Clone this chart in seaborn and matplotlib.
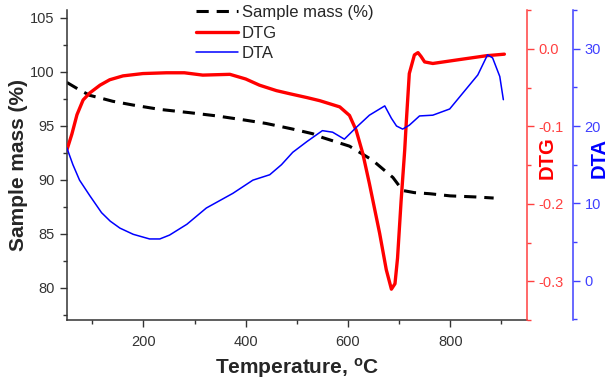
import matplotlib
matplotlib.use("Agg")
import matplotlib.pyplot as plt
from matplotlib.ticker import MultipleLocator
import pandas as pd
import seaborn as sns

# Data
temp_mass = [50, 75, 95, 120, 140, 180, 232, 290, 343, 400, 440, 490, 531, 550,
             603, 648, 688, 707, 730, 760, 800, 850, 885]
mass = [99.0, 98.3, 97.8, 97.5, 97.25, 96.9, 96.5, 96.2, 95.9, 95.5, 95.2, 94.7,
        94.25, 93.9, 93.1, 91.8, 90.2, 89.0, 88.8, 88.7, 88.5, 88.4, 88.3]

temp_dtg = [50, 60, 70, 82, 95, 115, 134, 160, 199, 245, 280, 316, 369, 400, 427,
            460, 486, 520, 545, 584, 603, 616, 629, 642, 662, 675, 685, 692, 697,
            704, 711, 714, 720, 730, 737, 743, 750, 766, 818, 871, 906]
dtg = [-0.131, -0.11, -0.085, -0.066, -0.057, -0.047, -0.040, -0.035, -0.032,
       -0.031, -0.031, -0.034, -0.033, -0.039, -0.047, -0.054, -0.058, -0.063,
       -0.067, -0.075, -0.086, -0.105, -0.135, -0.174, -0.238, -0.285, -0.310,
       -0.303, -0.27, -0.196, -0.131, -0.096, -0.032, -0.008, -0.005, -0.01,
       -0.017, -0.019, -0.014, -0.009, -0.007]

temp_dta = [50, 62, 75, 95, 118, 135, 154, 180, 212, 232, 251, 285, 323, 375, 414,
            447, 470, 492, 520, 550, 570, 593, 616, 642, 672, 685, 695, 707, 720,
            740, 766, 799, 824, 854, 873, 883, 897, 904]
dta = [17.2, 15.0, 13.0, 11.0, 8.8, 7.7, 6.8, 6.0, 5.4, 5.4, 5.9, 7.3, 9.4, 11.3,
       13.0, 13.7, 15.0, 16.6, 18.0, 19.4, 19.2, 18.3, 19.8, 21.4, 22.6, 21.0,
       20.0, 19.6, 20.1, 21.3, 21.4, 22.2, 24.2, 26.6, 29.2, 28.8, 26.4, 23.4]

df_mass = pd.DataFrame({"T": temp_mass, "v": mass})
df_dtg = pd.DataFrame({"T": temp_dtg, "v": dtg})
df_dta = pd.DataFrame({"T": temp_dta, "v": dta})

sns.set_style("ticks")
plt.rcParams["font.family"] = ["Liberation Sans", "DejaVu Sans"]
plt.rcParams["mathtext.default"] = "regular"

fig = plt.figure(figsize=(6.07, 3.83), dpi=100)
ax = fig.add_axes([0.110, 0.164, 0.758, 0.810])
ax2 = ax.twinx()
ax3 = ax.twinx()
ax3.spines["right"].set_position(("outward", 33))

sns.lineplot(data=df_mass, x="T", y="v", ax=ax, color="black", lw=2.2,
             linestyle=(0, (4, 2.6)), label="Sample mass (%)", legend=False)
sns.lineplot(data=df_dtg, x="T", y="v", ax=ax2, color="#ff0000", lw=2.4,
             label="DTG", legend=False)
sns.lineplot(data=df_dta, x="T", y="v", ax=ax3, color="#0000ff", lw=1.1,
             label="DTA", legend=False)

ax.set_xlim(50, 950)
ax.set_ylim(77, 105.7)
ax2.set_ylim(-0.35, 0.05)
ax3.set_ylim(-5.1, 35)

ax.xaxis.set_major_locator(MultipleLocator(200))
ax.xaxis.set_minor_locator(MultipleLocator(100))
ax.yaxis.set_major_locator(MultipleLocator(5))
ax.yaxis.set_minor_locator(MultipleLocator(2.5))
ax2.yaxis.set_major_locator(MultipleLocator(0.1))
ax2.yaxis.set_minor_locator(MultipleLocator(0.05))
ax2.yaxis.set_major_formatter(plt.FuncFormatter(lambda v, p: f"{v:.1f}"))
ax3.yaxis.set_major_locator(MultipleLocator(10))
ax3.yaxis.set_minor_locator(MultipleLocator(5))

# spines
ax.spines["top"].set_visible(False)
ax.spines["right"].set_visible(False)
for a in (ax2, ax3):
    a.spines["top"].set_visible(False)
    a.spines["left"].set_visible(False)
    a.spines["bottom"].set_visible(False)
ax2.spines["right"].set_color("#ff4040")
ax3.spines["right"].set_color("#4040ff")
for s in ("left", "bottom"):
    ax.spines[s].set_color("#333333")
    ax.spines[s].set_linewidth(1.1)
ax2.spines["right"].set_linewidth(1.1)
ax3.spines["right"].set_linewidth(1.1)

ax.tick_params(which="major", direction="out", length=5, width=1, colors="#333333",
               labelsize=10.5, pad=4)
ax.tick_params(which="minor", direction="out", length=3, width=1, colors="#333333")
ax.tick_params(axis="x", which="major", pad=6)
ax2.tick_params(which="both", direction="out", width=1, colors="#ff4040", labelsize=10.5)
ax2.tick_params(which="major", length=5)
ax2.tick_params(which="minor", length=3)
ax3.tick_params(which="both", direction="out", width=1, colors="#4040ff", labelsize=10.5)
ax3.tick_params(which="major", length=5)
ax3.tick_params(which="minor", length=3)

ax.set_xlabel("Temperature, $^o$C", fontsize=15, fontweight="bold", labelpad=5)
ax.set_ylabel("Sample mass (%)", fontsize=15, fontweight="bold", labelpad=1)
ax2.set_ylabel("DTG", fontsize=14.5, fontweight="bold", color="#ff0000")
ax3.set_ylabel("DTA", fontsize=14.5, fontweight="bold", color="#0000ff")
ax2.yaxis.set_label_coords(1.023, 0.523)
ax3.yaxis.set_label_coords(1.136, 0.523)

handles = ax.get_lines()[:1] + ax2.get_lines()[:1] + ax3.get_lines()[:1]
fig.legend(handles=handles, labels=["Sample mass (%)", "DTG", "DTA"],
           loc="upper left", bbox_to_anchor=(0.312, 1.004), frameon=False,
           fontsize=12, handlelength=2.5, labelspacing=0.33, handletextpad=0.25,
           borderaxespad=0)

fig.savefig("out.png", dpi=100)
